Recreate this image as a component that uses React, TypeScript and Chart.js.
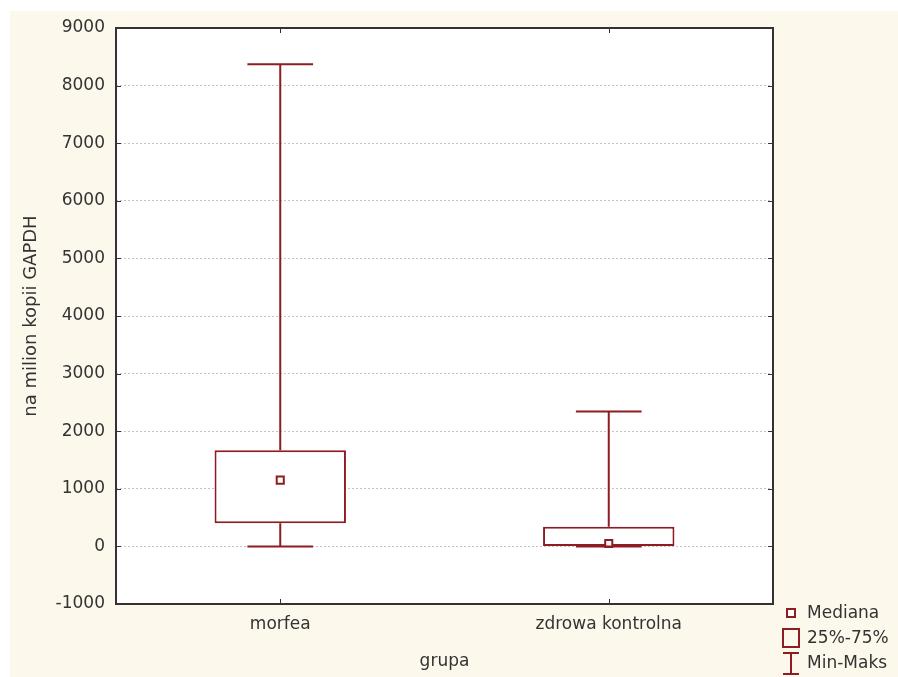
import { useEffect, useRef } from 'react';
import { Chart, registerables } from 'chart.js';

Chart.register(...registerables);

// Box plot data per group
const groups = ['morfea', 'zdrowa kontrolna'];
const minValues = [0, 0];
const q1Values = [400, 0];
const medianValues = [1150, 50];
const q3Values = [1670, 340];
const maxValues = [8370, 2340];

// Axis setup
const yMin = -1000;
const yMax = 9000;
const yStep = 1000;
const yTitle = 'na milion kopii GAPDH';
const xTitle = 'grupa';
const legendLabels = ['Mediana', '25%-75%', 'Min-Maks'];

const RED = '#8e1c22';
const INK = '#333333';
const CREAM = '#fcf8ec';
const FONT = "'DejaVu Sans', sans-serif";

const boxPlotDecor = {
  id: 'boxPlotDecor',
  beforeDraw(chart: any) {
    const { ctx, width, height, chartArea: a } = chart;
    ctx.save();
    ctx.fillStyle = '#ffffff';
    ctx.fillRect(0, 0, width, height);
    ctx.fillStyle = CREAM;
    ctx.fillRect(10, 11, width - 10, height - 11);
    ctx.fillStyle = '#ffffff';
    ctx.fillRect(a.left, a.top, a.right - a.left, a.bottom - a.top);
    ctx.restore();
  },
  afterDatasetsDraw(chart: any) {
    const { ctx } = chart;
    const y = chart.scales.y;
    const meta = chart.getDatasetMeta(0);
    ctx.save();
    ctx.strokeStyle = RED;
    ctx.lineWidth = 2;
    meta.data.forEach((bar: any, i: number) => {
      const x = bar.x;
      const half = bar.width / 4;
      const pMax = y.getPixelForValue(maxValues[i]);
      const pQ3 = y.getPixelForValue(q3Values[i]);
      const pQ1 = y.getPixelForValue(q1Values[i]);
      const pMin = y.getPixelForValue(minValues[i]);
      ctx.beginPath();
      // upper whisker and cap
      ctx.moveTo(x, pQ3);
      ctx.lineTo(x, pMax);
      ctx.moveTo(x - half, pMax);
      ctx.lineTo(x + half, pMax);
      // lower whisker and cap
      ctx.moveTo(x, pQ1);
      ctx.lineTo(x, pMin);
      ctx.moveTo(x - half, pMin);
      ctx.lineTo(x + half, pMin);
      ctx.stroke();
    });
    ctx.restore();
  },
  afterDraw(chart: any) {
    const { ctx, chartArea: a } = chart;
    const x = chart.scales.x;
    const y = chart.scales.y;
    ctx.save();
    // plot frame
    ctx.strokeStyle = INK;
    ctx.lineWidth = 2;
    ctx.strokeRect(a.left, a.top, a.right - a.left, a.bottom - a.top);
    // inward tick marks on all four sides
    ctx.lineWidth = 1;
    ctx.beginPath();
    y.ticks.forEach((t: any) => {
      const py = Math.round(y.getPixelForValue(t.value)) + 0.5;
      ctx.moveTo(a.left, py);
      ctx.lineTo(a.left + 5, py);
      ctx.moveTo(a.right, py);
      ctx.lineTo(a.right - 5, py);
    });
    groups.forEach((_, i) => {
      const px = Math.round(x.getPixelForValue(i)) + 0.5;
      ctx.moveTo(px, a.bottom);
      ctx.lineTo(px, a.bottom - 5);
      ctx.moveTo(px, a.top);
      ctx.lineTo(px, a.top + 5);
    });
    ctx.stroke();

    // legend
    const ix = a.right + 18;
    const tx = a.right + 34;
    const rows = [a.bottom + 9, a.bottom + 34, a.bottom + 59];
    ctx.strokeStyle = RED;
    ctx.lineWidth = 2;
    ctx.fillStyle = '#ffffff';
    // median square
    ctx.fillRect(ix - 4, rows[0] - 4, 8, 8);
    ctx.strokeRect(ix - 4, rows[0] - 4, 8, 8);
    // quartile box
    ctx.strokeRect(ix - 8, rows[1] - 9, 16, 18);
    // min-max bar
    ctx.beginPath();
    ctx.moveTo(ix, rows[2] - 10);
    ctx.lineTo(ix, rows[2] + 11);
    ctx.moveTo(ix - 8, rows[2] - 10);
    ctx.lineTo(ix + 8, rows[2] - 10);
    ctx.moveTo(ix - 8, rows[2] + 11);
    ctx.lineTo(ix + 8, rows[2] + 11);
    ctx.stroke();
    ctx.fillStyle = INK;
    ctx.font = `17px ${FONT}`;
    ctx.textAlign = 'left';
    ctx.textBaseline = 'middle';
    legendLabels.forEach((label, i) => ctx.fillText(label, tx, rows[i] + 1));
    ctx.restore();
  },
};

export default function App() {
  const canvasRef = useRef<HTMLCanvasElement | null>(null);

  useEffect(() => {
    const canvas = canvasRef.current;
    if (!canvas) return;
    const chart = new Chart(canvas, {
      type: 'bar',
      data: {
        labels: groups,
        datasets: [
          {
            type: 'bar',
            label: '25%-75%',
            data: groups.map((_, i) => [q1Values[i], q3Values[i]]) as any,
            backgroundColor: '#ffffff',
            borderColor: RED,
            borderWidth: 2,
            borderSkipped: false,
            barPercentage: 0.4,
            categoryPercentage: 1,
            order: 2,
          },
          {
            type: 'line',
            label: 'Mediana',
            data: medianValues,
            showLine: false,
            pointStyle: 'rect',
            pointRadius: 5,
            pointBorderWidth: 2,
            pointBackgroundColor: '#ffffff',
            pointBorderColor: RED,
            order: 1,
          } as any,
        ],
      },
      options: {
        animation: false,
        responsive: false,
        devicePixelRatio: 1,
        layout: { padding: { left: 0, top: 28, right: 125, bottom: 0 } },
        plugins: {
          legend: { display: false },
          tooltip: { enabled: false },
        },
        scales: {
          x: {
            offset: true,
            grid: { display: false, drawTicks: false },
            border: { display: false },
            ticks: {
              color: INK,
              font: { family: FONT, size: 17 },
              padding: 10,
            },
            title: {
              display: true,
              text: xTitle,
              color: INK,
              font: { family: FONT, size: 17 },
              padding: { top: 0, bottom: 5 },
            },
            afterFit(scale: any) {
              scale.height = 73;
            },
          },
          y: {
            min: yMin,
            max: yMax,
            grid: {
              drawTicks: false,
              lineWidth: 1,
              color: (c: any) =>
                c.tick && (c.tick.value === yMin || c.tick.value === yMax)
                  ? 'rgba(0,0,0,0)'
                  : '#c4c4c4',
            },
            border: { display: false, dash: [2, 2] },
            ticks: {
              stepSize: yStep,
              color: INK,
              font: { family: FONT, size: 17 },
              padding: 11,
              callback: (v: any) => String(v),
            },
            title: {
              display: true,
              text: yTitle,
              color: INK,
              font: { family: FONT, size: 18 },
              padding: { top: 21, bottom: 0 },
            },
            afterFit(scale: any) {
              scale.width = 116;
            },
          },
        },
      },
      plugins: [boxPlotDecor],
    });
    return () => chart.destroy();
  }, []);

  return (
    <div style={{ position: 'absolute', left: 0, top: 0, width: 898, height: 677 }}>
      <canvas ref={canvasRef} width={898} height={677} />
    </div>
  );
}
